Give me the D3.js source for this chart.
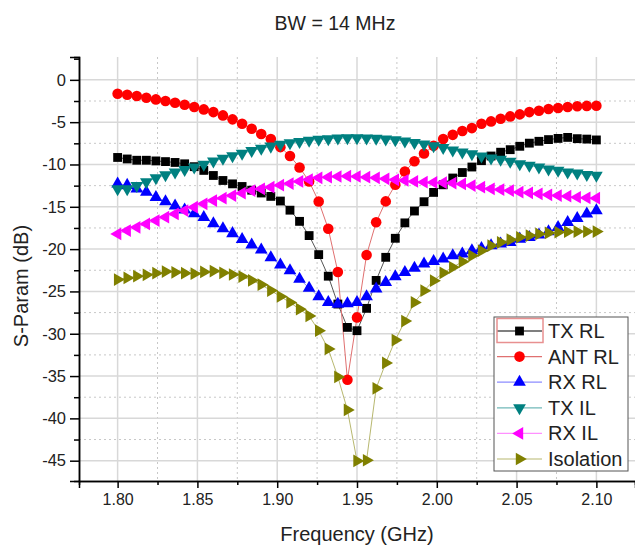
<!DOCTYPE html>
<html>
<head>
<meta charset="utf-8">
<script src="https://cdn.jsdelivr.net/npm/d3@7/dist/d3.min.js"></script>
<style>
  body { margin: 0; background: #fff; }
  text { font-family: "Liberation Sans", Arial, sans-serif; fill: #222; }
</style>
</head>
<body>
<div id="chart"></div>
<script>
// Frequency points (GHz)
var freq = [1.800, 1.806, 1.812, 1.818, 1.824, 1.830, 1.836, 1.842, 1.848, 1.854,
            1.860, 1.866, 1.872, 1.878, 1.884, 1.890, 1.896, 1.902, 1.908, 1.914,
            1.920, 1.926, 1.932, 1.938, 1.944, 1.950, 1.956, 1.962, 1.968, 1.974,
            1.980, 1.986, 1.992, 1.998, 2.004, 2.010, 2.016, 2.022, 2.028, 2.034,
            2.040, 2.046, 2.052, 2.058, 2.064, 2.070, 2.076, 2.082, 2.088, 2.094, 2.100];

// S-parameters (dB)
var txRL = [-9.17, -9.35, -9.5, -9.5, -9.58, -9.66, -9.76, -9.92, -10.26, -10.7,
            -11.3, -11.89, -12.29, -12.6, -13.04, -13.37, -13.77, -14.32, -15.4, -16.72,
            -18.4, -20.65, -23.2, -26.49, -29.25, -29.64, -27.0, -23.7, -20.97, -18.72,
            -16.9, -15.5, -14.4, -13.3, -12.4, -11.6, -10.95, -10.3, -9.55, -9.0,
            -8.55, -8.25, -7.85, -7.48, -7.26, -7.06, -6.92, -6.8, -6.95, -7.0, -7.1];

var antRL = [-1.64, -1.76, -1.91, -2.11, -2.31, -2.5, -2.7, -2.94, -3.21, -3.49,
             -3.81, -4.2, -4.67, -5.19, -5.78, -6.4, -7.0, -7.95, -9.0, -10.35,
             -12.0, -14.38, -17.6, -22.7, -35.44, -28.07, -20.69, -16.83, -14.36, -12.4,
             -10.83, -9.62, -8.7, -7.8, -7.0, -6.5, -6.05, -5.7, -5.19, -4.91,
             -4.6, -4.32, -4.08, -3.81, -3.65, -3.45, -3.33, -3.21, -3.12, -3.08, -3.06];

var rxRL = [-12.3, -12.45, -12.88, -13.27, -13.87, -14.38, -14.9, -15.35, -15.8, -16.25,
            -16.98, -17.58, -18.15, -18.85, -19.5, -20.08, -21.0, -21.86, -22.55, -23.53,
            -24.6, -25.6, -26.29, -26.49, -26.45, -26.29, -25.62, -24.7, -23.92, -23.25,
            -22.74, -22.23, -21.75, -21.44, -21.16, -20.77, -20.57, -20.18, -19.9, -19.59,
            -19.39, -19.2, -18.8, -18.6, -18.32, -17.93, -17.42, -16.83, -16.36, -15.84, -15.44];

var txIL = [-12.9, -12.88, -12.49, -12.05, -11.6, -11.24, -10.91, -10.61, -10.32, -10.0,
            -9.62, -9.29, -8.99, -8.68, -8.38, -8.11, -7.85, -7.63, -7.45, -7.3,
            -7.15, -7.05, -6.97, -6.9, -6.86, -6.86, -6.88, -6.92, -7.0, -7.1,
            -7.25, -7.42, -7.6, -7.8, -8.0, -8.3, -8.54, -8.74, -9.01, -9.25,
            -9.41, -9.64, -9.92, -10.12, -10.32, -10.55, -10.71, -10.91, -11.03, -11.2, -11.3];

var rxIL = [-18.2, -17.81, -17.42, -17.02, -16.63, -16.23, -15.84, -15.44, -15.05, -14.65,
            -14.26, -13.98, -13.67, -13.39, -13.08, -12.88, -12.68, -12.45, -12.25, -12.0,
            -11.78, -11.58, -11.5, -11.42, -11.38, -11.42, -11.5, -11.58, -11.7, -11.81,
            -11.89, -12.0, -12.09, -12.12, -12.15, -12.2, -12.3, -12.49, -12.68, -12.88,
            -12.96, -13.08, -13.27, -13.35, -13.47, -13.59, -13.67, -13.75, -13.87, -13.94, -13.98];

var isolation = [-23.6, -23.4, -23.2, -23.04, -22.85, -22.65, -22.74, -22.85, -22.9, -22.7,
                 -22.6, -22.8, -23.0, -23.24, -23.7, -24.2, -24.9, -25.6, -26.3, -27.1,
                 -27.9, -29.64, -31.8, -35.1, -39.0, -45.03, -44.95, -36.45, -33.45, -30.75,
                 -28.5, -26.3, -24.91, -23.73, -22.8, -22.15, -21.48, -20.77, -20.18, -19.59,
                 -19.2, -18.88, -18.6, -18.4, -18.2, -18.09, -18.0, -17.95, -17.93, -17.93, -17.93];

// Tick values
var xMajorTicks = [1.80, 1.85, 1.90, 1.95, 2.00, 2.05, 2.10];
var xMinorTicks = [1.825, 1.875, 1.925, 1.975, 2.025, 2.075];
var yMajorTicks = [0, -5, -10, -15, -20, -25, -30, -35, -40, -45];
var yMinorTicks = [2.5, -2.5, -7.5, -12.5, -17.5, -22.5, -27.5, -32.5, -37.5, -42.5];

var seriesNames = ["TX RL", "ANT RL", "RX RL", "TX IL", "RX IL", "Isolation"];

// Style per series: marker colour, line colour, symbol and rotation
var seriesStyle = [
    {values: txRL, color: "#000000", line: "#555555", symbol: d3.symbolSquare, size: 78, rotate: 0},
    {values: antRL, color: "#ff0000", line: "#e07070", symbol: d3.symbolCircle, size: 88, rotate: 0},
    {values: rxRL, color: "#0000ff", line: "#8c8cff", symbol: d3.symbolTriangle, size: 70, rotate: 0},
    {values: txIL, color: "#008080", line: "#70b8b8", symbol: d3.symbolTriangle, size: 70, rotate: 180},
    {values: rxIL, color: "#ff00ff", line: "#ff90ff", symbol: d3.symbolTriangle, size: 70, rotate: -90},
    {values: isolation, color: "#808000", line: "#b8b870", symbol: d3.symbolTriangle, size: 70, rotate: 90}
];

var svgWidth = 635;
var svgHeight = 545;

var margin = {top: 57, right: 0, bottom: 64, left: 79};
var chartWidth = svgWidth - margin.left - margin.right;
var chartHeight = svgHeight - margin.top - margin.bottom;

var svg = d3.select("#chart")
    .append("svg")
    .attr("width", svgWidth)
    .attr("height", svgHeight);

var chartGroup = svg.append("g")
    .attr("transform", `translate(${margin.left}, ${margin.top})`);

var xScale = d3.scaleLinear()
    .domain([1.7758, 2.1242])
    .range([0, chartWidth]);

var yScale = d3.scaleLinear()
    .domain([-47.4, 2.7])
    .range([chartHeight, 0]);

// grid lines
var grid = chartGroup.append("g");
grid.selectAll(".vmaj").data(xMajorTicks).enter().append("line")
    .attr("x1", d => xScale(d)).attr("x2", d => xScale(d))
    .attr("y1", 0).attr("y2", chartHeight)
    .attr("stroke", "#d8d8d8").attr("stroke-width", 1.5);
grid.selectAll(".vmin").data(xMinorTicks).enter().append("line")
    .attr("x1", d => xScale(d)).attr("x2", d => xScale(d))
    .attr("y1", 0).attr("y2", chartHeight)
    .attr("stroke", "#c8c8c8").attr("stroke-width", 1)
    .attr("stroke-dasharray", "2,3");
grid.selectAll(".hmaj").data(yMajorTicks).enter().append("line")
    .attr("x1", 0).attr("x2", chartWidth)
    .attr("y1", d => yScale(d)).attr("y2", d => yScale(d))
    .attr("stroke", "#d8d8d8").attr("stroke-width", 1.5);
grid.selectAll(".hmin").data(yMinorTicks.filter(d => d < 0)).enter().append("line")
    .attr("x1", 0).attr("x2", chartWidth)
    .attr("y1", d => yScale(d)).attr("y2", d => yScale(d))
    .attr("stroke", "#c8c8c8").attr("stroke-width", 1)
    .attr("stroke-dasharray", "2,3");

// series lines and markers
var lineGen = d3.line()
    .x((d, i) => xScale(freq[i]))
    .y(d => yScale(d));

seriesStyle.forEach(function (s) {
    chartGroup.append("path")
        .datum(s.values)
        .attr("d", lineGen)
        .attr("fill", "none")
        .attr("stroke", s.line)
        .attr("stroke-width", 1);
});

seriesStyle.forEach(function (s) {
    var sym = d3.symbol().type(s.symbol).size(s.size);
    chartGroup.append("g").selectAll("path")
        .data(s.values)
        .enter()
        .append("path")
        .attr("d", sym)
        .attr("transform", (d, i) => `translate(${xScale(freq[i])}, ${yScale(d)}) rotate(${s.rotate})`)
        .attr("fill", s.color);
});

// axes (plain hyphen for negative labels, like the original)
var bottomAxis = d3.axisBottom(xScale)
    .tickValues(xMajorTicks)
    .tickFormat(d3.format(".2f"))
    .tickSize(7)
    .tickPadding(6);
var bottomMinor = d3.axisBottom(xScale)
    .tickValues(xMinorTicks)
    .tickFormat("")
    .tickSize(4);
var leftAxis = d3.axisLeft(yScale)
    .tickValues(yMajorTicks)
    .tickFormat(d => String(d))
    .tickSize(9)
    .tickPadding(4);
var leftMinor = d3.axisLeft(yScale)
    .tickValues(yMinorTicks)
    .tickFormat("")
    .tickSize(5);

var xAxisG = chartGroup.append("g")
    .attr("transform", `translate(0, ${chartHeight})`)
    .call(bottomAxis);
chartGroup.append("g")
    .attr("transform", `translate(0, ${chartHeight})`)
    .call(bottomMinor);
var yAxisG = chartGroup.append("g").call(leftAxis);
chartGroup.append("g").call(leftMinor);

chartGroup.selectAll(".domain").attr("stroke", "#000").attr("stroke-width", 1.5);
chartGroup.selectAll(".tick line").attr("stroke", "#000").attr("stroke-width", 1.5);
xAxisG.selectAll("text").attr("font-size", 16).attr("fill", "#222");
yAxisG.selectAll("text").attr("font-size", 16.5).attr("fill", "#222");
chartGroup.selectAll(".tick text").attr("font-family", "Liberation Sans, Arial, sans-serif");

// titles
svg.append("text")
    .attr("x", 335)
    .attr("y", 23)
    .attr("text-anchor", "middle")
    .attr("dominant-baseline", "central")
    .attr("font-size", 19.5)
    .text("BW = 14 MHz");

svg.append("text")
    .attr("x", margin.left + chartWidth / 2)
    .attr("y", 534)
    .attr("text-anchor", "middle")
    .attr("dominant-baseline", "central")
    .attr("font-size", 20)
    .text("Frequency (GHz)");

svg.append("text")
    .attr("transform", "rotate(-90)")
    .attr("x", -286)
    .attr("y", 21)
    .attr("text-anchor", "middle")
    .attr("dominant-baseline", "central")
    .attr("font-size", 20)
    .text("S-Param (dB)");

// legend
var legend = svg.append("g").attr("transform", "translate(494, 317)");
legend.append("rect")
    .attr("width", 134)
    .attr("height", 154)
    .attr("fill", "#fff")
    .attr("stroke", "#555")
    .attr("stroke-width", 1);

var rowH = 25.6;
seriesStyle.forEach(function (s, i) {
    var row = legend.append("g").attr("transform", `translate(0, ${14 + i * rowH})`);
    row.append("line")
        .attr("x1", 3).attr("x2", 48)
        .attr("y1", 0).attr("y2", 0)
        .attr("stroke", i === 0 ? "#000" : s.line)
        .attr("stroke-width", 1.2);
    row.append("path")
        .attr("d", d3.symbol().type(s.symbol).size(s.size))
        .attr("transform", `translate(25.5, 0) rotate(${s.rotate})`)
        .attr("fill", s.color);
    row.append("text")
        .attr("x", 54)
        .attr("y", 0)
        .attr("dominant-baseline", "central")
        .attr("font-size", 20)
        .text(seriesNames[i]);
});

// selection box around the first legend entry
legend.append("rect")
    .attr("x", 3)
    .attr("y", 1.5)
    .attr("width", 46)
    .attr("height", 24)
    .attr("fill", "none")
    .attr("stroke", "#e89090")
    .attr("stroke-width", 1.5);
</script>
</body>
</html>
